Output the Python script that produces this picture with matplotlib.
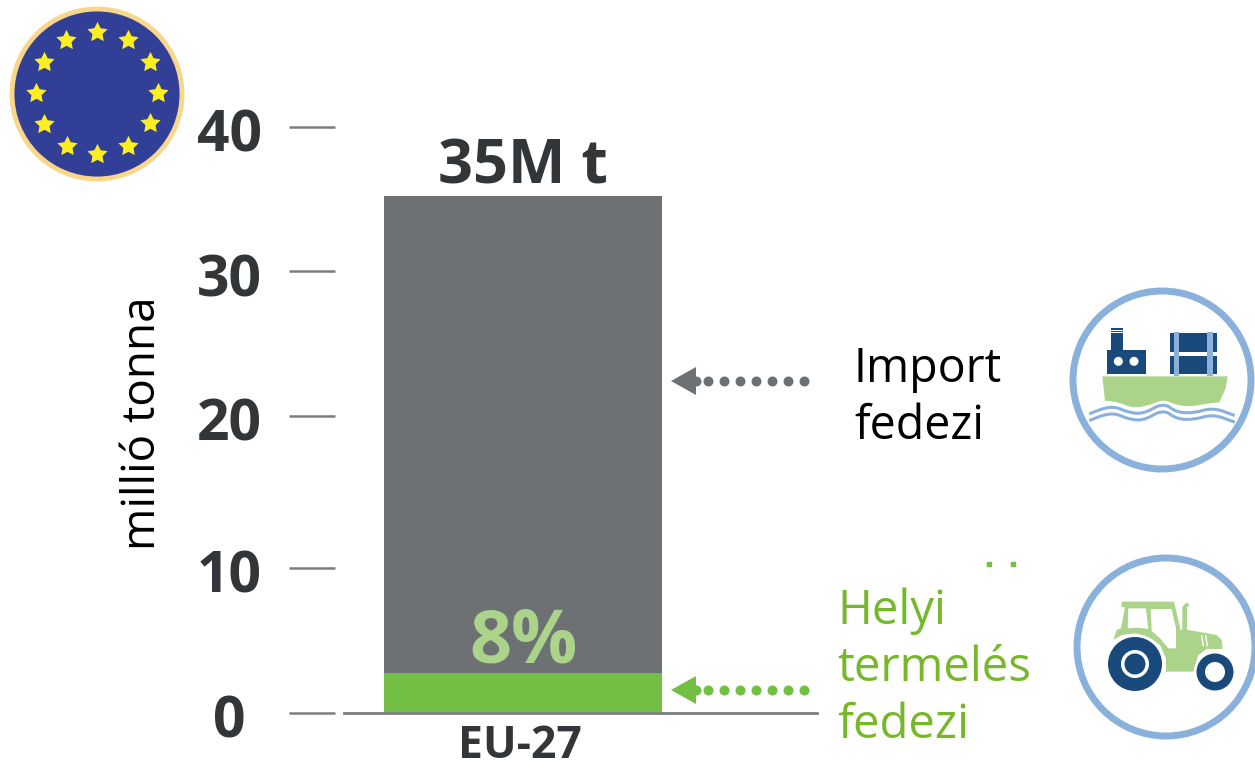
import numpy as np
import matplotlib
matplotlib.use('Agg')
import matplotlib.pyplot as plt
from matplotlib.patches import Circle, Polygon
from matplotlib.transforms import ScaledTranslation

plt.rcParams['font.family'] = ['Open Sans', 'DejaVu Sans']

# adatok
category = ['EU-27']
total = [35.3]
local = [2.75]
tick_pos = [0, 9.9, 20.3, 30.15, 40]
tick_labels = ['0', '10', '20', '30', '40']

GREY = '#6d7174'
GREEN = '#72bf44'
TEXT_GREEN = '#76b82a'
LIGHT_GREEN = '#abd38a'
NAVY = '#1a4a7c'
BLUE = '#8ab0dc'
DARK = '#333639'
W, H = 1255, 768

fig = plt.figure(figsize=(W/100, H/100), dpi=100)

# axes: x 335-817 px, y 127-713 px
ax = fig.add_axes([335/W, 1-713/H, (817-335)/W, (713-127)/H])
x0 = -(523-335)/278
x1 = (817-523)/278
ax.set_xlim(x0, x1)
ax.set_ylim(0, 40)
ax.patch.set_alpha(0)
ax.bar(0, total, width=1, color=GREY)
ax.bar(0, local, width=1, color=GREEN)
for s in ['top', 'right', 'left']:
    ax.spines[s].set_visible(False)
ax.spines['bottom'].set_color('#7b7e82')
ax.spines['bottom'].set_linewidth(2)
ax.spines['bottom'].set_bounds(x0+9/278, x1)
ax.set_yticks(tick_pos, tick_labels, fontsize=41, fontweight='bold', color=DARK)
ax.tick_params(axis='y', length=33, width=1.8, color='#7b7e82', pad=43)
for lab in ax.get_yticklabels():
    lab.set_ha('center')
    lab.set_transform(lab.get_transform() + ScaledTranslation(0, -3/100, fig.dpi_scale_trans))
ax.set_xticks([-0.01], category, fontsize=32, fontweight='bold', color=DARK)
ax.tick_params(axis='x', length=0, pad=8)
ax.text(0, total[0]+0.87, '35M t', ha='center', va='baseline', fontsize=44,
        fontweight='bold', color=DARK)
ax.text(0, local[0]+0.73, '8%', ha='center', va='baseline', fontsize=53,
        fontweight='bold', color=LIGHT_GREEN)

# felso reteg pixelben az ikonoknak, nyilaknak
ov = fig.add_axes([0, 0, 1, 1])
ov.set_xlim(0, W)
ov.set_ylim(H, 0)
ov.axis('off')
ov.patch.set_alpha(0)

ov.text(143, 423, 'millió tonna', rotation=90, ha='center', va='center', fontsize=33, color='black')
ov.text(854, 369, 'Import', ha='left', va='center', fontsize=33.5, color='black')
ov.text(854, 426, 'fedezi', ha='left', va='center', fontsize=33.5, color='black')
for y, t in zip([611, 668, 725], ['Helyi', 'termelés', 'fedezi']):
    ov.text(837, y, t, ha='left', va='center', fontsize=34, color=TEXT_GREEN)
ov.plot([989, 1013], [564, 564], ls='none', marker='s', ms=2.5, color=GREEN)

# nyilak
def arrow(y, col):
    ov.add_patch(Polygon([(671, y), (696, y-14), (696, y+14)], color=col, lw=0))
    ov.plot(np.arange(708, 810, 16), [y]*7, ls='none', marker='o', ms=7.2, color=col, mew=0)
    ov.plot([696], [y], ls='none', marker='o', ms=7.2, color=col, mew=0)

arrow(381, GREY)
arrow(690, GREEN)

# EU zaszlo
ov.add_patch(Circle((97, 94), 85, fc='#313f96', ec='#f9d78a', lw=3.5))
ang = np.deg2rad(np.arange(0, 360, 30))
ov.scatter(97+61*np.sin(ang), 92-61*np.cos(ang)+1, marker=(5, 1), s=235, color='#fdee21', lw=0, zorder=3)

# hullam simitas
def chaikin(pts, n=3):
    p = np.array(pts, dtype=float)
    for _ in range(n):
        q = 0.75*p[:-1] + 0.25*p[1:]
        r = 0.25*p[:-1] + 0.75*p[1:]
        p = np.vstack([p[0], np.column_stack([q, r]).reshape(-1, 2), p[-1]])
    return p

# hajo, koordinatak a nagyitott kepbol
def sz(pts):
    return [(1060+a/3, 280+b/3) for a, b in pts]

ov.add_patch(Circle((1162, 380), 89, fc='white', ec=BLUE, lw=5))
hull_bottom = chaikin([(478, 367), (440, 371), (390, 380), (350, 375), (310, 358), (270, 375), (220, 385), (170, 365), (135, 363)])
ov.add_patch(Polygon(sz([(127, 289), (503, 289), (497, 325)] + [tuple(p) for p in hull_bottom]), fc=LIGHT_GREEN, lw=0))
ov.add_patch(Polygon(sz([(153, 160), (188, 160), (188, 211), (257, 211), (257, 283), (142, 283), (142, 211), (153, 211)]),
                     fc=NAVY, lw=0))
ov.add_patch(Polygon(sz([(153, 143), (188, 143), (188, 149), (153, 149)]), fc=NAVY, lw=0))
ov.add_patch(Polygon(sz([(153, 152), (188, 152), (188, 157), (153, 157)]), fc=NAVY, lw=0))
for cx in [175, 222]:
    ov.add_patch(Circle(sz([(cx, 244)])[0], 4.5, fc='white', lw=0))
ov.add_patch(Polygon(sz([(330, 160), (471, 160), (471, 216), (330, 216)]), fc=NAVY, lw=0))
ov.add_patch(Polygon(sz([(330, 227), (471, 227), (471, 283), (330, 283)]), fc=NAVY, lw=0))
for cx in [350, 450]:
    ov.add_patch(Polygon(sz([(cx-8, 157), (cx+8, 157), (cx+8, 287), (cx-8, 287)]), fc=BLUE, lw=0))
wave = [(92, 400), (130, 385), (165, 380), (205, 397), (250, 402), (310, 368), (350, 397), (400, 399), (460, 383), (520, 405)]
for dy in [0, 20]:
    w = chaikin(sz([(a, b+dy) for a, b in wave]))
    ov.plot(w[:, 0], w[:, 1], color=BLUE, lw=2.2)

# traktor
def tz(pts):
    return [(1060+a/3, 545+b/3) for a, b in pts]

ov.add_patch(Circle((1166, 647), 89, fc='white', ec=BLUE, lw=5))
ov.add_patch(Polygon(tz([(185, 170), (342, 170), (362, 255), (385, 255), (470, 270), (485, 285), (488, 312), (440, 312),
                         (415, 330), (400, 380), (318, 380), (318, 340), (300, 300), (270, 280), (225, 265), (185, 270),
                         (160, 285), (170, 255), (183, 250), (195, 187), (185, 187)]), fc=LIGHT_GREEN, lw=0))
ov.add_patch(Polygon(tz([(205, 190), (258, 190), (265, 252), (230, 248), (203, 250)]), fc='white', lw=0))
ov.add_patch(Polygon(tz([(272, 192), (335, 192), (348, 250), (348, 310), (325, 310), (300, 280), (275, 258)]), fc='white', lw=0))
ov.add_patch(Polygon(tz([(367, 255), (367, 185), (380, 172), (390, 182), (381, 185), (381, 255)]), fc=LIGHT_GREEN, lw=0))
for dx in [0, 12]:
    e = tz([(425+dx, 272), (430+dx, 302)])
    ov.plot([e[0][0], e[1][0]], [e[0][1], e[1][1]], color='white', lw=1)
big = tz([(225, 357)])[0]
small = tz([(465, 381)])[0]
ov.add_patch(Circle(big, 30, fc='white', lw=0))
ov.add_patch(Circle(big, 27, fc=NAVY, lw=0))
ov.add_patch(Circle(big, 14, fc='white', lw=0))
ov.add_patch(Circle(big, 10.5, fc=NAVY, lw=0))
ov.add_patch(Circle(small, 21, fc='white', lw=0))
ov.add_patch(Circle(small, 18.5, fc=NAVY, lw=0))
ov.add_patch(Circle(small, 10, fc='white', lw=0))

fig.savefig('out.png', dpi=100)
